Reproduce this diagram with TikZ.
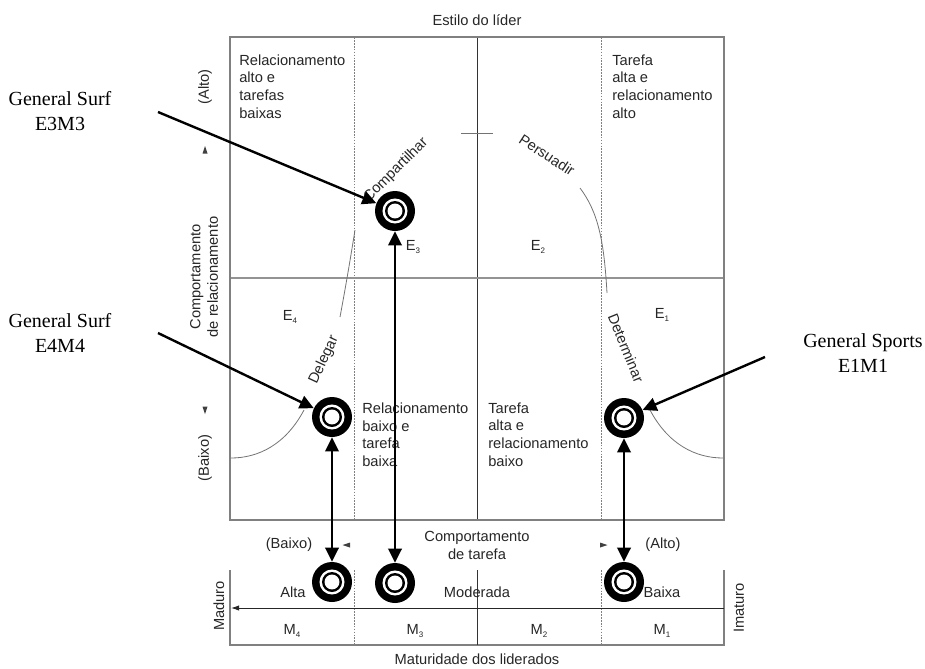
\documentclass[tikz,border=0pt]{standalone}
\usepackage{fontspec}
\setmainfont{Liberation Sans}
\newfontfamily\tnr{Liberation Serif}
\usetikzlibrary{arrows.meta}
\definecolor{frameg}{gray}{0.5}
\definecolor{lineg}{gray}{0.45}
\newcommand\subn[1]{\raisebox{-0.45ex}{\fontsize{6}{6}\selectfont #1}}
\begin{document}
\begin{tikzpicture}[x=0.75pt,y=-0.75pt,
  lbl/.style={font=\fontsize{11}{13.2}\selectfont, inner sep=0, text=black!85},
  qtxt/.style={lbl, align=left, anchor=north west},
  callout/.style={font=\tnr\fontsize{15}{18.5}\selectfont, align=center, inner sep=0},
  frame/.style={draw=frameg, line width=1.1pt},
  dsh/.style={draw=gray, line width=0.55pt, dash pattern=on 1.3pt off 0.9pt},
  bell/.style={draw=lineg, line width=0.6pt},
  target/.style={circle, fill=black, minimum size=30pt, inner sep=0,
    path picture={
      \fill[white] (path picture bounding box.center) circle (9.4pt);
      \fill[black] (path picture bounding box.center) circle (7.5pt);
      \fill[white] (path picture bounding box.center) circle (5.6pt);}},
  big/.style={line width=1.8pt, -{Triangle[length=10.5pt,width=10pt]}},
  dbl/.style={line width=1.8pt, {Triangle[length=10.5pt,width=10pt]}-{Triangle[length=10.5pt,width=10pt]}},
  trimark/.style={fill=black!75}
]
\useasboundingbox (0,0) rectangle (925,668);

% ---------- main grid ----------
\draw[dsh] (354,37) -- (354,520);
\draw[dsh] (601,37) -- (601,520);
\draw[draw=black!80, line width=0.6pt] (477,37) -- (477,520);
\draw[draw=frameg!85, line width=1.6pt] (230,278) -- (724,278);
\draw[frame] (230,37) rectangle (724,520);

% ---------- bell curve ----------
\draw[bell] (231,458) .. controls (259,458) and (286,444) .. (304,410);
\draw[bell] (340,317) .. controls (346,285) and (351,255) .. (355,230);
\draw[bell] (461,133) -- (493,133);
\draw[bell] (580,188) .. controls (598,212) and (604,240) .. (607,293);
\draw[bell] (650,410) .. controls (668,444) and (695,458) .. (723,458);

\node[lbl, rotate=45] (lcomp) at (396,170) {Compartilhar};
\node[lbl, rotate=-33] (lpers) at (547,155) {Persuadir};
\node[lbl, rotate=65] (ldel) at (324,360) {Delegar};
\node[lbl, rotate=-68] (ldet) at (626,348) {Determinar};

% ---------- titles & axis labels ----------
\node[lbl] (title) at (477,20) {Estilo do líder};
\node[lbl, rotate=90] (alto) at (205,87) {(Alto)};
\node[lbl, rotate=90, align=center] (comprel) at (204,277) {Comportamento\\de relacionamento};
\node[lbl, rotate=90] (baixo) at (205,458) {(Baixo)};
\fill[trimark] (205,146) -- (207.5,153.5) -- (202.5,153.5) -- cycle;
\fill[trimark] (205,414) -- (207.5,406.5) -- (202.5,406.5) -- cycle;

% ---------- quadrant texts ----------
\node[qtxt] (q1) at (239,54.5) {Relacionamento\\alto e\\tarefas\\baixas};
\node[qtxt] (q2) at (612,54.5) {Tarefa\\alta e\\relacionamento\\alto};
\node[qtxt] (q3) at (362,402.5) {Relacionamento\\baixo e\\tarefa\\baixa};
\node[qtxt] (q4) at (488,402.5) {Tarefa\\alta e\\relacionamento\\baixo};

\node[lbl] (e3) at (413,247) {E\subn{3}};
\node[lbl] (e2) at (538,247) {E\subn{2}};
\node[lbl] (e4) at (290,317) {E\subn{4}};
\node[lbl] (e1) at (662,315) {E\subn{1}};

% ---------- task behaviour axis ----------
\node[lbl] (tb) at (289,545) {(Baixo)};
\node[lbl, align=center] (comptar) at (477,545.5) {Comportamento\\de tarefa};
\node[lbl] (ta) at (663,545) {(Alto)};
\fill[trimark] (342.5,545) -- (350,542.5) -- (350,547.5) -- cycle;
\fill[trimark] (607.5,545) -- (600,542.5) -- (600,547.5) -- cycle;

% ---------- maturity box ----------
\draw[frame] (230,570) -- (230,645) -- (724,645) -- (724,570);
\draw[dsh] (354,570) -- (354,645);
\draw[dsh] (601,570) -- (601,645);
\draw[draw=black!80, line width=0.6pt] (477,570) -- (477,645);
\draw[draw=black!85, line width=0.7pt, -{Latex[length=6pt,width=4pt]}] (724,608) -- (231,608);

\node[lbl] (alta) at (293,592) {Alta};
\node[lbl] (mod) at (477,592) {Moderada};
\node[lbl] (bx) at (662,592) {Baixa};
\node[lbl] (m4t) at (292,631) {M\subn{4}};
\node[lbl] (m3t) at (415,631) {M\subn{3}};
\node[lbl] (m2t) at (539,631) {M\subn{2}};
\node[lbl] (m1t) at (662,631) {M\subn{1}};
\node[lbl, rotate=90] (mad) at (219,606) {Maduro};
\node[lbl, rotate=90] (ima) at (739,608) {Imaturo};
\node[lbl] (matur) at (477,659) {Maturidade dos liderados};

% ---------- targets ----------
\node[target] (c3) at (395,211) {};
\node[target] (c4) at (332,417) {};
\node[target] (c1) at (624,418) {};
\node[target] (m4) at (332,582) {};
\node[target] (m3) at (395,583) {};
\node[target] (m1) at (624,582) {};

\draw[dbl] (c4) -- (m4);
\draw[dbl] (c3) -- (m3);
\draw[dbl] (c1) -- (m1);

% ---------- callouts ----------
\node[callout] (t3) at (60,111) {General Surf\\E3M3};
\node[callout] (t4) at (60,333) {General Surf\\E4M4};
\node[callout] (t1) at (863,353) {General Sports\\E1M1};
\coordinate (a3) at (158,112);
\coordinate (a4) at (158,333);
\coordinate (a1) at (765,357);
\draw[big] (a3) -- (c3);
\draw[big] (a4) -- (c4);
\draw[big] (a1) -- (c1);
\end{tikzpicture}
\end{document}
